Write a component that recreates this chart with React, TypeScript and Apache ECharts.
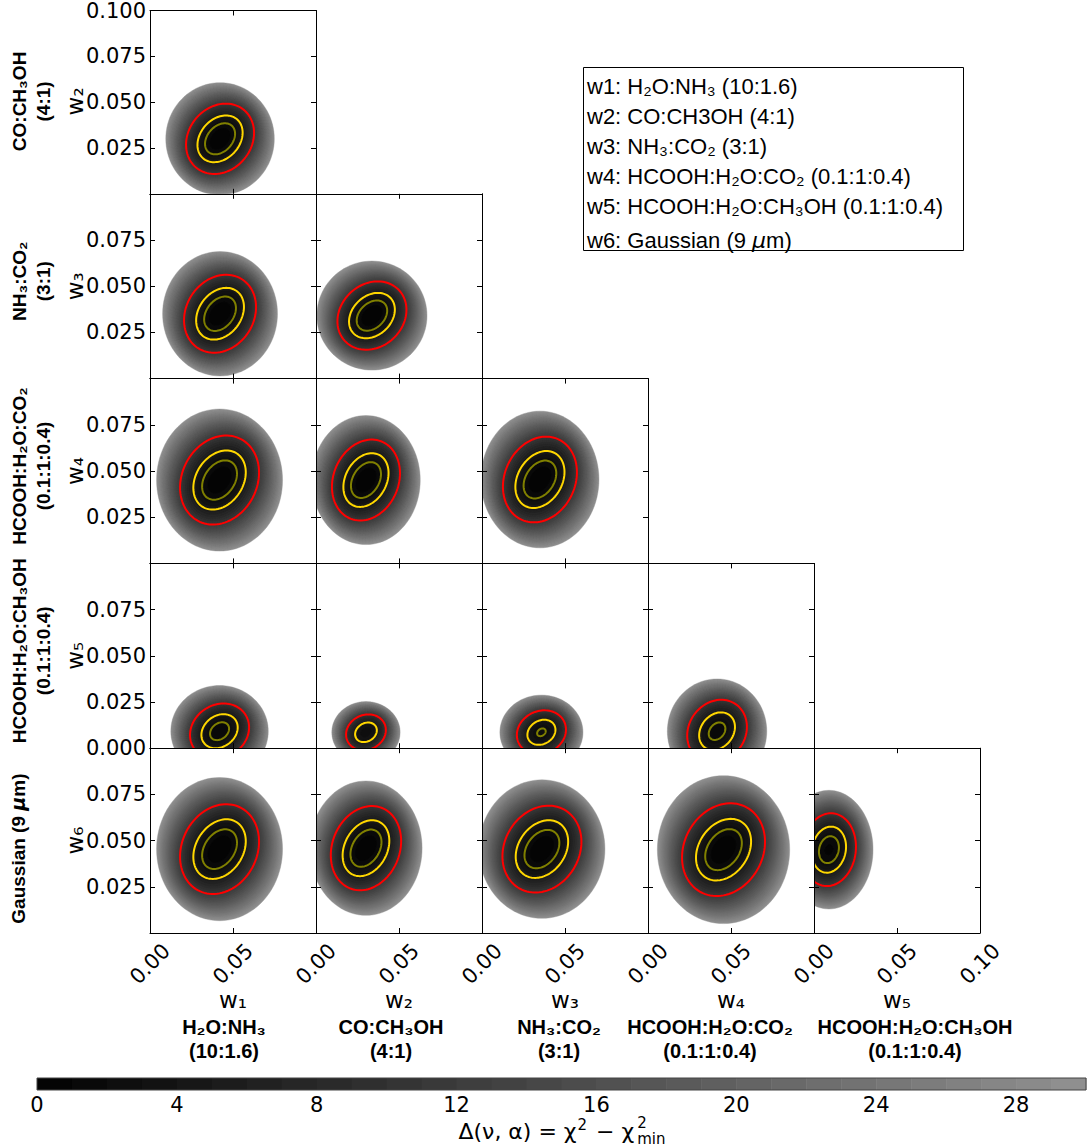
import { useEffect, useRef } from 'react';
import * as echarts from 'echarts';

// ---------- data ----------
const W_NAMES = ['w₁', 'w₂', 'w₃', 'w₄', 'w₅', 'w₆'];
const MIX_LINE1 = ['H₂O:NH₃', 'CO:CH₃OH', 'NH₃:CO₂', 'HCOOH:H₂O:CO₂', 'HCOOH:H₂O:CH₃OH', 'Gaussian (9 μm)'];
const MIX_LINE2 = ['(10:1.6)', '(4:1)', '(3:1)', '(0.1:1:0.4)', '(0.1:1:0.4)', ''];
const LEGEND_LINES = [
  'w1: H₂O:NH₃ (10:1.6)',
  'w2: CO:CH3OH (4:1)',
  'w3: NH₃:CO₂ (3:1)',
  'w4: HCOOH:H₂O:CO₂ (0.1:1:0.4)',
  'w5: HCOOH:H₂O:CH₃OH (0.1:1:0.4)',
  'w6: Gaussian (9 {i|μ}m)',
];

// panel i: row (y = w[row+2]) and column (x = w[col+1])
const PANEL_ROW = [0, 1, 1, 2, 2, 2, 3, 3, 3, 3, 4, 4, 4, 4, 4];
const PANEL_COL = [0, 0, 1, 0, 1, 2, 0, 1, 2, 3, 0, 1, 2, 3, 4];
// best-fit position of each 2-D slice
const CENTER_X = [0.0422, 0.0422, 0.0337, 0.0419, 0.0301, 0.0349, 0.0419, 0.0301, 0.0358, 0.0416, 0.0419, 0.0301, 0.0361, 0.0455, 0.0090];
const CENTER_Y = [0.0300, 0.0351, 0.0341, 0.0451, 0.0451, 0.0454, 0.0092, 0.0086, 0.0086, 0.0092, 0.0454, 0.0459, 0.0454, 0.0451, 0.0451];
// half extent of the red (outer) contour
const RED_HALF_X = [0.0205, 0.0217, 0.0208, 0.0238, 0.0205, 0.0223, 0.0178, 0.0120, 0.0148, 0.0180, 0.0238, 0.0212, 0.0238, 0.0250, 0.0163];
const RED_HALF_Y = [0.0192, 0.0211, 0.0185, 0.0241, 0.0219, 0.0232, 0.0150, 0.0097, 0.0119, 0.0170, 0.0243, 0.0228, 0.0235, 0.0251, 0.0197];
// smallest Δ reached inside each slice
const MIN_DELTA = [0, 0, 0, 0, 0, 0, 1.2, 2.4, 2.0, 1.5, 0, 0, 0, 0, 0.8];
// correlation of the inner contours
const TILT = [0.45, 0.45, 0.45, 0.45, 0.45, 0.45, 0.35, 0.3, 0.3, 0.35, 0.45, 0.45, 0.45, 0.45, 0.2];

const CONTOUR_LEVELS = [2.3, 5.2, 11.8];
const RED_LEVEL = 11.8;
const FILL_LEVELS = [0, 1, 2, 3, 4, 5, 6, 7, 8, 9, 10, 11, 12, 13, 14, 15, 16, 17, 18, 19, 20, 21, 22, 23, 24, 25, 26, 27, 28, 29, 30];
const CBAR_TICKS = [0, 4, 8, 12, 16, 20, 24, 28];

// ---------- styles / layout ----------
const CONTOUR_COLORS = ['#808000', '#ffd700', '#ff0000'];
const SANS = '"DejaVu Sans", sans-serif';
const HELV = '"Liberation Sans", Arial, sans-serif';
const PANEL_LEFT = 150;
const PANEL_W = 166;
const PANEL_TOP = 9;
const PANEL_H = 184.8;
const MIX_LABEL_SHIFT = [-9, -8, -6, -21, 18];
const ROW_LABEL_SHIFT = [0, -5, -5, -5, 8];
const FILL_MAX = FILL_LEVELS[FILL_LEVELS.length - 1];

const grayOf = (k: number) => {
  const g = Math.round(4 + 4.8 * k);
  return `rgb(${g},${g},${g})`;
};

function ringPoints(api: any, i: number, L: number) {
  const d0 = MIN_DELTA[i];
  const scale = Math.sqrt(RED_LEVEL - d0);
  const sx = RED_HALF_X[i] / scale;
  const sy = RED_HALF_Y[i] / scale;
  const r = Math.sqrt(L - d0);
  const t = Math.sqrt((L - d0) / (FILL_MAX - d0));
  const rho = Math.max(0, TILT[i] * (1 - t));
  const s = Math.sqrt(1 - rho * rho);
  const pts: number[][] = [];
  const N = 96;
  for (let j = 0; j < N; j++) {
    const th = (2 * Math.PI * j) / N;
    const u = r * Math.cos(th);
    const v = r * (rho * Math.cos(th) + s * Math.sin(th));
    pts.push(api.coord([CENTER_X[i] + sx * u, CENTER_Y[i] + sy * v]));
  }
  return pts;
}

function richBold(s: string) {
  return s
    .split('\n')
    .map((line) =>
      line
        .split('μ')
        .map((p) => (p ? `{b|${p}}` : ''))
        .join('{bi|μ}')
    )
    .join('\n');
}

function buildOption() {
  const grid: any[] = [];
  const xAxis: any[] = [];
  const yAxis: any[] = [];
  const series: any[] = [];
  const nP = PANEL_ROW.length;

  const axisBase = {
    type: 'value',
    min: 0,
    max: 0.1,
    z: 10,
    splitLine: { show: false },
    axisLine: { show: true, onZero: false, lineStyle: { color: '#000', width: 1 } },
    axisTick: { show: true, inside: true, length: 5, lineStyle: { color: '#000', width: 1 } },
  };

  for (let i = 0; i < nP; i++) {
    const r = PANEL_ROW[i];
    const c = PANEL_COL[i];
    grid.push({ left: PANEL_LEFT + PANEL_W * c, top: PANEL_TOP + PANEL_H * r, width: PANEL_W, height: PANEL_H });
    const showX = r === 4;
    xAxis.push({
      ...axisBase,
      gridIndex: i,
      position: 'bottom',
      interval: 0.05,
      axisLabel: showX
        ? {
            show: true,
            rotate: 45,
            align: 'center',
            verticalAlign: 'middle',
            margin: 31,
            fontSize: 21,
            fontFamily: SANS,
            color: '#000',
            formatter: (v: number) => (c < 4 && v > 0.075 ? '' : v.toFixed(2)),
          }
        : { show: false },
    });
    xAxis.push({ ...axisBase, gridIndex: i, position: 'top', interval: 0.05, axisLabel: { show: false } });
    yAxis.push({
      ...axisBase,
      gridIndex: i,
      position: 'left',
      interval: 0.025,
      axisLabel:
        c === 0
          ? {
              show: true,
              margin: 4,
              fontSize: 21,
              fontFamily: SANS,
              color: '#000',
              formatter: (v: number) => {
                if (v < 0.001 && r !== 3) return '';
                if (v > 0.099 && r !== 0) return '';
                return v.toFixed(3);
              },
            }
          : { show: false },
    });
    yAxis.push({ ...axisBase, gridIndex: i, position: 'right', interval: 0.025, axisLabel: { show: false } });

    series.push({
      type: 'custom',
      xAxisIndex: 2 * i,
      yAxisIndex: 2 * i,
      clip: true,
      silent: true,
      data: [[CENTER_X[i], CENTER_Y[i], i]],
      renderItem: (params: any, api: any) => {
        const p = api.value(2);
        const d0 = MIN_DELTA[p];
        const children: any[] = [];
        for (let k = FILL_LEVELS.length - 2; k >= 0; k--) {
          const B = FILL_LEVELS[k + 1];
          if (B <= d0) break;
          children.push({
            type: 'polygon',
            shape: { points: ringPoints(api, p, B) },
            style: { fill: grayOf(FILL_LEVELS[k]), stroke: grayOf(FILL_LEVELS[k]), lineWidth: 0.4 },
          });
        }
        CONTOUR_LEVELS.forEach((L, j) => {
          if (L <= d0 + 0.05) return;
          children.push({
            type: 'polygon',
            shape: { points: ringPoints(api, p, L) },
            style: { fill: 'none', stroke: CONTOUR_COLORS[j], lineWidth: 2 },
          });
        });
        return { type: 'group', children };
      },
    });
  }

  // colorbar
  const cb = nP;
  grid.push({ left: 37, top: 1078, width: 1049, height: 12 });
  xAxis.push({
    type: 'value',
    gridIndex: cb,
    min: FILL_LEVELS[0],
    max: FILL_MAX,
    interval: 4,
    splitLine: { show: false },
    axisLine: { show: false },
    axisTick: { show: false },
    axisLabel: {
      show: true,
      margin: 4,
      fontSize: 21,
      fontFamily: SANS,
      color: '#000',
      formatter: (v: number) => (CBAR_TICKS.indexOf(v) >= 0 ? String(v) : ''),
    },
  });
  yAxis.push({ type: 'value', gridIndex: cb, min: 0, max: 1, show: false });
  series.push({
    type: 'custom',
    xAxisIndex: 2 * nP,
    yAxisIndex: 2 * nP,
    silent: true,
    data: FILL_LEVELS.slice(0, -1).map((k) => [k]),
    renderItem: (params: any, api: any) => {
      const k = api.value(0);
      const a = api.coord([k, 1]);
      const b = api.coord([k + 1, 0]);
      return {
        type: 'rect',
        shape: { x: a[0], y: a[1], width: b[0] - a[0] + 0.5, height: b[1] - a[1] },
        style: { fill: grayOf(k) },
      };
    },
  });

  // ---------- graphic texts ----------
  const elements: any[] = [];
  const mkRich = (size: number) => ({
    b: { fontSize: size, fontFamily: HELV, fontWeight: 'bold', fill: '#000', lineHeight: 24 },
    bi: { fontSize: size, fontFamily: SANS, fontStyle: 'italic', fontWeight: 'bold', fill: '#000', lineHeight: 24 },
  });

  for (let r = 0; r < 5; r++) {
    const idx = r + 1;
    const cy = PANEL_TOP + PANEL_H * r + PANEL_H / 2;
    const two = !!MIX_LINE2[idx];
    const txt = two ? `${MIX_LINE1[idx]}\n${MIX_LINE2[idx]}` : MIX_LINE1[idx];
    elements.push({
      type: 'text',
      x: two ? 31 : 18,
      y: cy + ROW_LABEL_SHIFT[r],
      rotation: Math.PI / 2,
      z: 50,
      style: { text: richBold(txt), rich: mkRich(19), align: 'center', verticalAlign: 'middle' },
    });
    elements.push({
      type: 'text',
      x: 75,
      y: cy,
      rotation: Math.PI / 2,
      z: 50,
      style: { text: W_NAMES[idx], fontSize: 23, fontFamily: SANS, fill: '#000', align: 'center', verticalAlign: 'middle' },
    });
  }

  for (let c = 0; c < 5; c++) {
    const cx = PANEL_LEFT + PANEL_W * c + PANEL_W / 2;
    elements.push({
      type: 'text',
      x: cx,
      y: 1000,
      z: 50,
      style: { text: W_NAMES[c], fontSize: 23, fontFamily: SANS, fill: '#000', align: 'center', verticalAlign: 'middle' },
    });
    elements.push({
      type: 'text',
      x: cx + MIX_LABEL_SHIFT[c],
      y: 1039,
      z: 50,
      style: { text: richBold(`${MIX_LINE1[c]}\n${MIX_LINE2[c]}`), rich: mkRich(20), align: 'center', verticalAlign: 'middle' },
    });
  }

  // legend box
  elements.push({
    type: 'rect',
    shape: { x: 583.5, y: 67.5, width: 380, height: 183 },
    style: { fill: '#fff', stroke: '#000', lineWidth: 1 },
    z: 40,
  });
  const legendY = [86, 116, 146, 176, 206, 240];
  LEGEND_LINES.forEach((t, j) => {
    elements.push({
      type: 'text',
      x: 587,
      y: legendY[j],
      z: 50,
      style: {
        text: t,
        fontSize: 22,
        fontFamily: HELV,
        fill: '#000',
        align: 'left',
        verticalAlign: 'middle',
        rich: { i: { fontSize: 22, fontFamily: SANS, fontStyle: 'italic', fill: '#000' } },
      },
    });
  });

  // colorbar frame
  elements.push({
    type: 'rect',
    shape: { x: 37, y: 1078, width: 1049, height: 12 },
    style: { fill: 'none', stroke: '#444', lineWidth: 1 },
    z: 50,
  });

  // colorbar label Δ(ν, α) = χ² − χ²_min
  const canvas = document.createElement('canvas');
  const ctx = canvas.getContext('2d')!;
  const meas = (t: string, size: number) => {
    ctx.font = `${size}px "DejaVu Sans"`;
    return ctx.measureText(t).width;
  };
  const MAIN = 22;
  const SCR = 15;
  const parts: [string, number, number, number][] = [
    ['Δ(ν, α) = χ', MAIN, 0, 1],
    ['2', SCR, -6, 2],
    [' − χ', MAIN, 0, 3],
  ];
  const wStack = Math.max(meas('2', SCR), meas('min', SCR));
  let total = wStack;
  parts.forEach(([t, s, , g]) => (total += meas(t, s) + g));
  let xx = 562 - total / 2;
  const ly = 1131;
  parts.forEach(([t, s, dy, g]) => {
    elements.push({
      type: 'text',
      x: xx,
      y: ly + dy,
      z: 50,
      style: { text: t, fontSize: s, fontFamily: SANS, fill: '#000', align: 'left', verticalAlign: 'middle' },
    });
    xx += meas(t, s) + g;
  });
  // stacked superscript 2 and subscript "min"
  elements.push({
    type: 'text',
    x: xx,
    y: ly,
    z: 50,
    style: {
      text: '2\nmin',
      fontSize: SCR,
      lineHeight: 16,
      fontFamily: SANS,
      fill: '#000',
      align: 'left',
      verticalAlign: 'middle',
    },
  });

  return {
    animation: false,
    backgroundColor: '#fff',
    grid,
    xAxis,
    yAxis,
    series,
    graphic: { elements },
  };
}

export default function App() {
  const ref = useRef<HTMLDivElement>(null);
  useEffect(() => {
    document.body.style.margin = '0';
    const chart = echarts.init(ref.current!, null, { renderer: 'svg' });
    chart.setOption(buildOption() as any);
    return () => chart.dispose();
  }, []);
  return <div ref={ref} style={{ width: 1090, height: 1147 }} />;
}
